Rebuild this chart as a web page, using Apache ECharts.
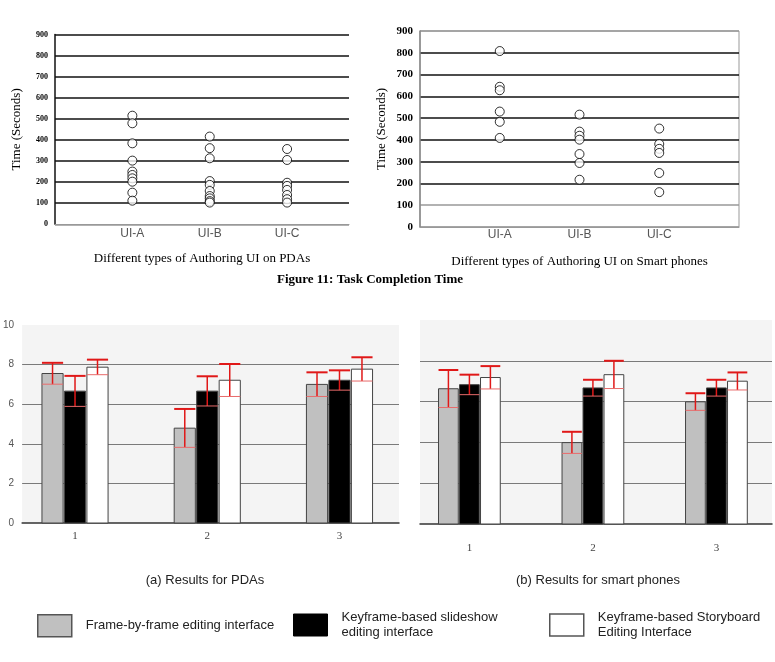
<!DOCTYPE html>
<html>
<head>
<meta charset="utf-8">
<script src="https://cdn.jsdelivr.net/npm/echarts@6/dist/echarts.min.js"></script>
<style>
  html, body { margin: 0; padding: 0; background: #fff; }
  #chart { width: 775px; height: 662px; }
</style>
</head>
<body>
<div id="chart"></div>
<script>
// scatter: task completion time (seconds)
const uiCats = ['UI-A', 'UI-B', 'UI-C']
const pdaTimeA = [515, 479, 384, 302, 250, 234, 218, 202, 150, 112]
const pdaTimeB = [416, 361, 313, 205, 187, 158, 134, 123, 110, 103]
const pdaTimeC = [357, 305, 197, 182, 163, 139, 119, 103]
const phoneTimeA = [808, 644, 628, 530, 483, 409]
const phoneTimeB = [516, 438, 419, 401, 335, 294, 217]
const phoneTimeC = [452, 381, 359, 340, 248, 160]

// bars: mean score and error per group
const groups = [1, 2, 3]
const pdaFrameMean = [7.55, 4.79, 7.0]
const pdaFrameErr = [0.54, 0.97, 0.61]
const pdaSlideMean = [6.66, 6.66, 7.21]
const pdaSlideErr = [0.77, 0.75, 0.5]
const pdaBoardMean = [7.87, 7.21, 7.77]
const pdaBoardErr = [0.38, 0.82, 0.6]
const phoneFrameMean = [6.63, 3.99, 5.99]
const phoneFrameErr = [0.92, 0.53, 0.42]
const phoneSlideMean = [6.83, 6.67, 6.67]
const phoneSlideErr = [0.49, 0.4, 0.4]
const phoneBoardMean = [7.18, 7.32, 7.0]
const phoneBoardErr = [0.56, 0.68, 0.43]

const nameFrame = 'Frame-by-frame editing interface'
const nameSlide = 'Keyframe-based slideshow editing interface'
const nameBoard = 'Keyframe-based Storyboard Editing Interface'

const serif = 'Liberation Serif, Times New Roman, serif'
const sans = 'Liberation Sans, Arial, sans-serif'

const chart = echarts.init(document.getElementById('chart'))

// scatter points: x = category index (1..3)
const toPoints = (lists) => {
  const pts = []
  lists.forEach((list, i) => list.forEach((v) => pts.push([i + 1, v])))
  return pts
}

const toBarData = (means, errs) => groups.map((g, i) => [g, means[i], errs[i]])

// bar + error bar drawn through the axis scales
const barRenderer = (offsetIdx, fill) => (params, api) => {
  const x = api.value(0)
  const v = api.value(1)
  const e = api.value(2)
  const base = api.coord([x, 0])
  const top = api.coord([x, v])
  const w = api.size([0.16, 0])[0]
  const cx = base[0] + api.size([0.17, 0])[0] * offsetIdx
  const hi = api.coord([x, v + e])[1]
  const lo = api.coord([x, v - e])[1]
  return {
    type: 'group',
    children: [
      {
        type: 'rect',
        shape: { x: cx - w / 2, y: top[1], width: w, height: base[1] - top[1] },
        style: { fill: fill, stroke: '#444', lineWidth: 1 },
      },
      { type: 'line', shape: { x1: cx, y1: hi, x2: cx, y2: lo }, style: { stroke: '#e01818', lineWidth: 1.5 } },
      { type: 'line', shape: { x1: cx - w / 2, y1: hi, x2: cx + w / 2, y2: hi }, style: { stroke: '#e01818', lineWidth: 2 } },
      { type: 'line', shape: { x1: cx - w / 2, y1: lo, x2: cx + w / 2, y2: lo }, style: { stroke: '#e86a6a', lineWidth: 1 } },
    ],
  }
}

const barSeries = (name, axisIdx, offsetIdx, fill, means, errs) => ({
  name: name,
  type: 'custom',
  xAxisIndex: axisIdx,
  yAxisIndex: axisIdx,
  encode: { x: 0, y: 1 },
  itemStyle: { color: fill },
  renderItem: barRenderer(offsetIdx, fill),
  data: toBarData(means, errs),
})

const scatterX = (idx, max, name, labelMargin) => ({
  gridIndex: idx,
  type: 'value',
  min: 0,
  max: max,
  interval: 1,
  name: name,
  nameLocation: 'middle',
  nameGap: 28,
  nameTextStyle: { fontFamily: serif, fontSize: 13, color: '#000' },
  axisLine: { lineStyle: { color: '#999', width: 1 } },
  axisTick: { show: false },
  splitLine: { show: false },
  axisLabel: {
    margin: labelMargin,
    fontFamily: sans,
    fontSize: 12,
    color: '#555',
    formatter: (v) => uiCats[v - 1] || '',
  },
})

const scatterY = (idx, fontSize, lineColors, axisColor) => ({
  gridIndex: idx,
  type: 'value',
  min: 0,
  max: 900,
  interval: 100,
  name: 'Time (Seconds)',
  nameLocation: 'middle',
  nameGap: 32,
  nameTextStyle: { fontFamily: serif, fontSize: 13, color: '#000' },
  axisLine: { show: true, lineStyle: { color: axisColor, width: 1.5 } },
  axisTick: { show: false },
  axisLabel: { margin: 7, fontFamily: serif, fontWeight: 'bold', fontSize: fontSize, color: '#000' },
  splitLine: { show: true, lineStyle: { color: lineColors, width: 1.5 } },
})

const barX = (idx, labelMargin) => ({
  gridIndex: idx,
  type: 'value',
  min: 0.6,
  max: 3.45,
  axisLine: { lineStyle: { color: '#333', width: 1.5 } },
  axisTick: { show: false },
  splitLine: { show: false },
  axisLabel: {
    customValues: groups,
    margin: labelMargin,
    fontFamily: serif,
    fontSize: 11,
    color: '#444',
  },
})

const barY = (idx, showLabel) => ({
  gridIndex: idx,
  type: 'value',
  min: 0,
  max: 10,
  interval: 2,
  axisLine: { show: false },
  axisTick: { show: false },
  axisLabel: { show: showLabel, margin: 8, fontFamily: sans, fontSize: 10, color: '#555' },
  splitLine: { show: true, showMinLine: false, showMaxLine: false, lineStyle: { color: '#7a7a7a', width: 1 } },
})

const scatterStyle = {
  type: 'scatter',
  symbol: 'circle',
  symbolSize: 9,
  itemStyle: { color: '#fff', borderColor: '#000', borderWidth: 1 },
  silent: true,
}

const legendBase = {
  orient: 'horizontal',
  selectedMode: false,
  padding: 0,
  itemWidth: 34,
  itemHeight: 22,
  textStyle: { fontFamily: sans, fontSize: 13, color: '#222', lineHeight: 15, padding: [0, 0, 0, 9] },
}

// two-line legend text sits a bit lower than the box centre
const twoLineText = Object.assign({}, legendBase.textStyle, { padding: [8, 0, 0, 9] })

const option = {
  animation: false,
  backgroundColor: '#fff',
  grid: [
    { left: 55, top: 34.5, width: 294, bottom: 437.7 },
    { left: 420, top: 31, right: 36, bottom: 435, show: true, borderColor: '#999', borderWidth: 1 },
    { left: 18, top: 325, width: 381, bottom: 139, show: true, backgroundColor: '#f4f4f4', borderWidth: 0 },
    { left: 420, top: 320, right: 3, bottom: 138, show: true, backgroundColor: '#f4f4f4', borderWidth: 0 },
  ],
  xAxis: [
    scatterX(0, 3.8, 'Different types of Authoring UI on PDAs', 3),
    scatterX(1, 4, 'Different types of Authoring UI on Smart phones', 2),
    barX(2, 8),
    barX(3, 19),
  ],
  yAxis: [
    scatterY(0, 8, ['#999', '#111', '#111', '#111', '#111', '#111', '#111', '#111', '#111', '#111'], '#111'),
    scatterY(1, 11, ['#999', '#999', '#111', '#111', '#111', '#111', '#111', '#111', '#111', '#999'], '#888'),
    barY(2, true),
    barY(3, false),
  ],
  legend: [
    Object.assign({}, legendBase, {
      left: 37,
      top: 614,
      data: [{ name: nameFrame, icon: 'rect', itemStyle: { color: '#c0c0c0', borderColor: '#555', borderWidth: 1.5 } }],
    }),
    Object.assign({}, legendBase, {
      left: 293,
      top: 606,
      textStyle: twoLineText,
      formatter: () => 'Keyframe-based slideshow\nediting interface',
      data: [{ name: nameSlide, icon: 'rect', itemStyle: { color: '#000', borderColor: '#000', borderWidth: 1 } }],
    }),
    Object.assign({}, legendBase, {
      left: 549,
      top: 606,
      textStyle: twoLineText,
      formatter: () => 'Keyframe-based Storyboard\nEditing Interface',
      data: [{ name: nameBoard, icon: 'rect', itemStyle: { color: '#fff', borderColor: '#555', borderWidth: 1.5 } }],
    }),
  ],
  graphic: [
    {
      type: 'text',
      x: 370,
      y: 280,
      style: {
        text: 'Figure 11: Task Completion Time',
        fontFamily: serif,
        fontWeight: 'bold',
        fontSize: 13,
        fill: '#000',
        align: 'center',
        verticalAlign: 'middle',
      },
    },
    {
      type: 'text',
      x: 205,
      y: 580,
      style: { text: '(a) Results for PDAs', fontFamily: sans, fontSize: 13, fill: '#222', align: 'center', verticalAlign: 'middle' },
    },
    {
      type: 'text',
      x: 598,
      y: 580,
      style: { text: '(b) Results for smart phones', fontFamily: sans, fontSize: 13, fill: '#222', align: 'center', verticalAlign: 'middle' },
    },
  ],
  series: [
    Object.assign({}, scatterStyle, { xAxisIndex: 0, yAxisIndex: 0, data: toPoints([pdaTimeA, pdaTimeB, pdaTimeC]) }),
    Object.assign({}, scatterStyle, { xAxisIndex: 1, yAxisIndex: 1, data: toPoints([phoneTimeA, phoneTimeB, phoneTimeC]) }),
    barSeries(nameFrame, 2, -1, '#c0c0c0', pdaFrameMean, pdaFrameErr),
    barSeries(nameSlide, 2, 0, '#000', pdaSlideMean, pdaSlideErr),
    barSeries(nameBoard, 2, 1, '#fff', pdaBoardMean, pdaBoardErr),
    barSeries(nameFrame, 3, -1, '#c0c0c0', phoneFrameMean, phoneFrameErr),
    barSeries(nameSlide, 3, 0, '#000', phoneSlideMean, phoneSlideErr),
    barSeries(nameBoard, 3, 1, '#fff', phoneBoardMean, phoneBoardErr),
  ],
}

chart.setOption(option)
</script>
</body>
</html>
